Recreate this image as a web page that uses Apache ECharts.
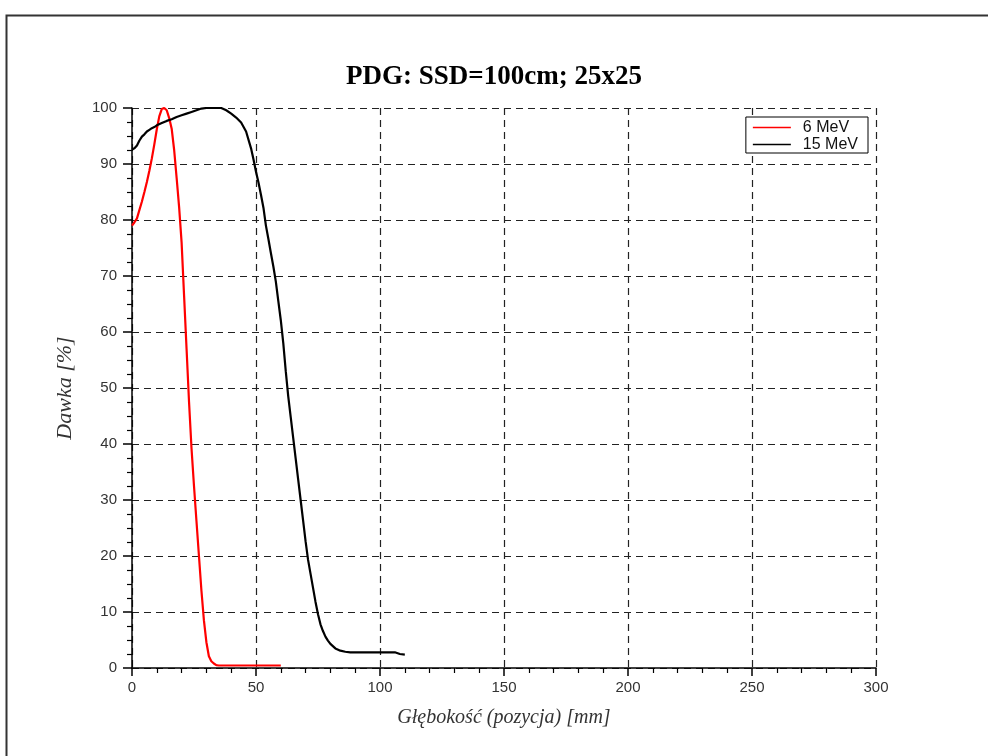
<!DOCTYPE html>
<html>
<head>
<meta charset="utf-8">
<script src="https://cdn.jsdelivr.net/npm/echarts@6/dist/echarts.min.js"></script>
<style>html,body{margin:0;padding:0;background:#fff;}#c{width:988px;height:756px;}</style>
</head>
<body>
<div id="c"></div>
<script>
const titleText = 'PDG: SSD=100cm; 25x25';
const xAxisName = 'Głębokość (pozycja) [mm]';
const yAxisName = 'Dawka [%]';
const seriesNames = ['6 MeV', '15 MeV'];

const depth6 = [0,1,2,3,4,5,6,7,8,9,10,11,12,13,14,15,16,17,18,19,20,21,22,23,24,25,26,27,28,29,30,31,32,33,34,35,40,45,50,55,60];
const dose6  = [79.0,79.6,80.3,81.8,83.3,85.0,86.8,88.8,91.0,93.5,96.2,98.5,99.8,100,99.6,98.2,96.3,92.5,87.5,82.3,76.0,66.5,57.0,47.5,39.2,32.5,26.2,20.0,13.8,8.5,4.6,2.1,1.2,0.8,0.5,0.45,0.45,0.45,0.45,0.45,0.45];

const depth15 = [0,1,2,3,4,5,6,7,8,9,10,12,14,16,18,20,22,24,26,28,30,32,34,36,38,40,42,44,46,48,49,50,51,52,53,54,55,56,57,58,59,60,61,62,63,64,65,66,67,68,69,70,71,72,73,74,75,76,77,78,79,80,81,82,84,86,88,95,100,106,108,110];
const dose15  = [92.6,92.8,93.3,94.2,94.9,95.3,95.8,96.1,96.4,96.6,96.9,97.3,97.7,98.0,98.4,98.7,99.0,99.3,99.6,99.9,100,100,100,100,99.6,99.0,98.3,97.4,95.8,92.8,90.8,88.6,86.7,84.5,82.2,79.0,76.6,74.1,71.7,69.0,65.5,62.1,58.0,53.0,48.5,44.8,41.1,37.4,33.7,30.0,26.3,22.6,19.3,16.8,14.3,11.8,9.6,7.8,6.6,5.6,4.9,4.3,3.9,3.5,3.1,2.9,2.8,2.8,2.8,2.8,2.5,2.4];

const xMin = 0, xMax = 300, xInterval = 50;
const yMin = 0, yMax = 100, yInterval = 10;

function pairs(xs, ys) { return xs.map((x, i) => [x, ys[i]]); }

const chart = echarts.init(document.getElementById('c'), null, {renderer: 'canvas'});
const gridLine = {show: true, lineStyle: {color: '#222', width: 1.2, type: [7, 5]}};
chart.setOption({
  animation: false,
  backgroundColor: '#fff',
  title: {
    text: titleText, left: 'center', top: 59,
    textStyle: {fontFamily: 'Liberation Serif', fontWeight: 'bold', fontSize: 27, color: '#000'}
  },
  graphic: [{
    type: 'rect', left: 4, top: 13, z: -1,
    shape: {width: 1000, height: 800},
    style: {fill: 'none', stroke: '#333', lineWidth: 2}
  }],
  legend: {
    right: 120, top: 117, orient: 'vertical',
    backgroundColor: '#fff', borderColor: '#000', borderWidth: 1,
    padding: [2, 10, 0, 7], itemGap: 0, itemWidth: 38, itemHeight: 1.5,
    icon: 'rect',
    textStyle: {fontFamily: 'Liberation Sans', fontSize: 16, lineHeight: 17, color: '#111', padding: [0, 0, 0, 7]},
    data: seriesNames
  },
  grid: {left: 132, right: 112, top: 108, bottom: 88, containLabel: false},
  xAxis: {
    type: 'value', min: xMin, max: xMax, interval: xInterval,
    name: xAxisName, nameLocation: 'middle', nameGap: 40,
    nameTextStyle: {fontFamily: 'Liberation Serif', fontStyle: 'italic', fontSize: 20, color: '#333'},
    axisLine: {show: true, onZero: false, lineStyle: {color: '#000', width: 1.5}},
    axisTick: {show: true, length: 8, lineStyle: {color: '#000', width: 1.5}},
    minorTick: {show: true, splitNumber: 5, length: 5, lineStyle: {color: '#000', width: 1.2}},
    axisLabel: {fontFamily: 'Liberation Sans', fontSize: 15, color: '#333', margin: 12},
    splitLine: gridLine
  },
  yAxis: {
    type: 'value', min: yMin, max: yMax, interval: yInterval,
    name: yAxisName, nameLocation: 'middle', nameGap: 56,
    nameTextStyle: {fontFamily: 'Liberation Serif', fontStyle: 'italic', fontSize: 22, color: '#333'},
    axisLine: {show: true, onZero: false, lineStyle: {color: '#000', width: 1.5}},
    axisTick: {show: true, length: 9, lineStyle: {color: '#000', width: 1.5}},
    minorTick: {show: true, splitNumber: 4, length: 5, lineStyle: {color: '#000', width: 1.2}},
    axisLabel: {fontFamily: 'Liberation Sans', fontSize: 15, color: '#333', margin: 15},
    splitLine: gridLine
  },
  series: [
    {name: seriesNames[0], type: 'line', data: pairs(depth6, dose6), showSymbol: false, symbol: 'none',
     lineStyle: {color: '#ff0000', width: 2.2}, itemStyle: {color: '#ff0000'}, z: 3},
    {name: seriesNames[1], type: 'line', data: pairs(depth15, dose15), showSymbol: false, symbol: 'none',
     lineStyle: {color: '#000000', width: 2.2}, itemStyle: {color: '#000000'}, z: 4}
  ]
});
</script>
</body>
</html>
